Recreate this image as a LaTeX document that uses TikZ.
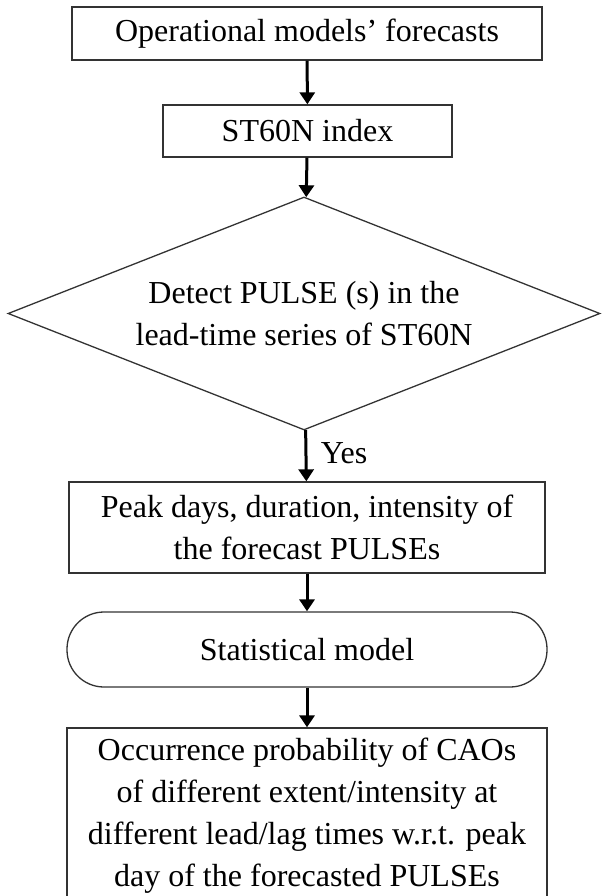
\documentclass[tikz,border=0pt]{standalone}
\usepackage{fontspec}
\setmainfont{Liberation Serif}
\usetikzlibrary{shapes.geometric,arrows.meta}

\begin{document}
\begin{tikzpicture}[
    x=1pt, y=-1pt,
    font=\fontsize{32}{42}\selectfont,
    box/.style={draw=black!80, line width=1.3pt, rectangle, align=center,
                inner sep=0pt},
    decide/.style={draw=black!80, line width=1.3pt, diamond, aspect=2.5,
                   align=center, inner sep=0pt},
    term/.style={draw=black!80, line width=1.3pt, rectangle,
                 rounded corners=37pt, align=center, inner sep=0pt},
    arr/.style={-{Triangle[length=12pt, width=15pt]}, line width=3pt},
  ]
  \useasboundingbox (0,0) rectangle (602,896);

  %% boxes
  \node[box, minimum width=470pt, minimum height=53pt] (fcst) at (307, 33.5)
    {Operational models' forecasts};
  \node[box, minimum width=289pt, minimum height=52pt] (index) at (307.5, 131)
    {ST60N index};
  \node[decide, minimum width=592pt, minimum height=233pt] (detect) at (304, 313.5)
    {Detect PULSE (s) in the\\lead-time series of ST60N};
  \node[box, minimum width=476pt, minimum height=91pt] (peak) at (307, 527.5)
    {Peak days, duration, intensity of\\the forecast PULSEs};
  \node[term, minimum width=480pt, minimum height=75pt] (stat) at (307, 649.5)
    {Statistical model};
  \node[box, minimum width=480pt, minimum height=176pt] (prob) at (307, 816)
    {Occurrence probability of CAOs\\of different extent/intensity at\\
     different lead/lag times w.r.t. peak\\day of the forecasted PULSEs};

  %% arrows
  \draw[arr] (fcst)   -- (index);
  \draw[arr] (index)  -- (detect);
  \draw[arr] (detect) -- node[right=10pt, pos=0.45]{Yes} (peak);
  \draw[arr] (peak)   -- (stat);
  \draw[arr] (stat)   -- (prob);

\end{tikzpicture}
\end{document}
